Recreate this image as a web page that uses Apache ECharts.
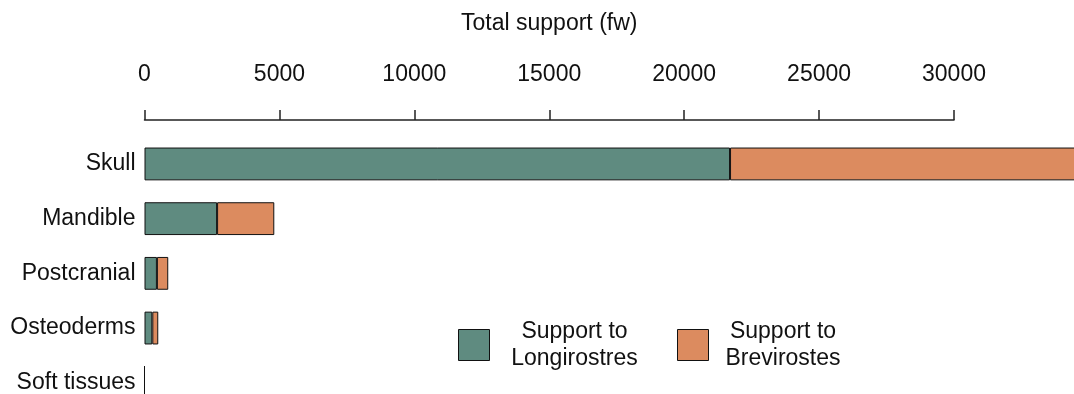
<!DOCTYPE html>
<html>
<head>
<meta charset="utf-8">
<script src="https://cdn.jsdelivr.net/npm/echarts@6/dist/echarts.min.js"></script>
<style>
html,body{margin:0;padding:0;background:#fff;}
#chart{width:1074px;height:394px;}
</style>
</head>
<body>
<div id="chart"></div>
<script>
var categories = ['Skull', 'Mandible', 'Postcranial', 'Osteoderms', 'Soft tissues'];
var longirostres = [21700, 2690, 460, 290, 0];
var brevirostes = [13300, 2120, 420, 220, 0];
var xTicks = { min: 0, max: 30000, interval: 5000 };
var seriesNames = ['Support to\nLongirostres', 'Support to\nBrevirostes'];
var colors = ['#5f8b80', '#dc8b5f'];

var FONT = '"Liberation Sans", Arial, sans-serif';
var chart = echarts.init(document.getElementById('chart'), null, { renderer: 'canvas' });

function legendFmt(w) {
  return {
    formatter: function (name) {
      return name.split('\n').map(function (s) { return '{a|' + s + '}'; }).join('\n');
    },
    textStyle: {
      rich: { a: { width: w, align: 'center', fontSize: 23, lineHeight: 27, color: '#111', fontFamily: FONT } }
    }
  };
}

var option = {
  animation: false,
  backgroundColor: '#fff',
  textStyle: { fontFamily: FONT },
  grid: { left: 144.5, width: 809.5, top: 136.6, height: 273.5, containLabel: false, outerBoundsMode: 'none' },
  xAxis: {
    type: 'value',
    position: 'top',
    offset: 16.6,
    min: xTicks.min, max: xTicks.max, interval: xTicks.interval,
    name: 'Total support (fw)',
    nameLocation: 'middle',
    nameGap: 85,
    nameTextStyle: { fontSize: 23, color: '#111', fontFamily: FONT },
    axisLine: { show: true, lineStyle: { color: '#222', width: 1.5 } },
    axisTick: { show: true, length: 10, lineStyle: { color: '#222', width: 1.5 } },
    axisLabel: { fontSize: 23, color: '#111', margin: 34, fontFamily: FONT,
      formatter: function (v) { return String(v); } },
    splitLine: { show: false }
  },
  yAxis: {
    type: 'category',
    inverse: true,
    data: categories,
    axisLine: { show: false },
    axisTick: { show: false },
    axisLabel: { fontSize: 23, color: '#111', margin: 9, fontFamily: FONT }
  },
  legend: [
    Object.assign({
      data: [seriesNames[0]],
      left: 453, top: 315,
      itemWidth: 31, itemHeight: 31,
      icon: 'rect',
      itemStyle: { borderWidth: 1, borderColor: '#111' }
    }, legendFmt(160)),
    Object.assign({
      data: [seriesNames[1]],
      left: 672, top: 315,
      itemWidth: 31, itemHeight: 31,
      icon: 'rect',
      itemStyle: { borderWidth: 1, borderColor: '#111' }
    }, legendFmt(139))
  ],
  series: [
    {
      name: seriesNames[0], type: 'bar', stack: 'total', data: longirostres,
      barCategoryGap: '40%', clip: false,
      itemStyle: { color: colors[0], borderColor: '#111', borderWidth: 1 }
    },
    {
      name: seriesNames[1], type: 'bar', stack: 'total', data: brevirostes,
      barCategoryGap: '40%', clip: false,
      itemStyle: { color: colors[1], borderColor: '#111', borderWidth: 1 }
    }
  ]
};
chart.setOption(option);
</script>
</body>
</html>
